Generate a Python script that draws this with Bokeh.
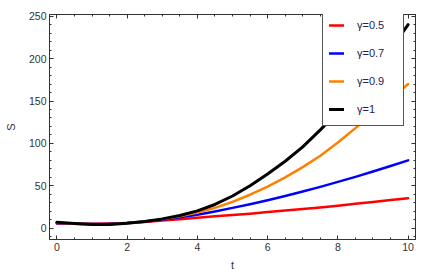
from bokeh.plotting import figure
from bokeh.models import (Range1d, LinearAxis, SingleIntervalTicker, Legend, LegendItem)
from bokeh.embed import file_html
from bokeh.resources import INLINE

# ---- data ----
t = [0, 0.5, 1, 1.5, 2, 2.5, 3, 3.5, 4, 4.5, 5, 5.5, 6, 6.5, 7, 7.5, 8, 8.5, 9, 9.5, 10]
s_05 = [5.5, 5.2, 5.2, 5.6, 6.3, 7.2, 9.0, 10.5, 12.3, 14.0, 15.6, 17.2, 19.0, 20.8, 22.6, 24.5, 26.6, 28.8, 31.0, 33.2, 35.4]
s_07 = [6.0, 5.3, 5.0, 5.3, 6.3, 7.8, 10.0, 12.8, 16.0, 19.8, 24.0, 28.3, 33.0, 38.0, 43.3, 48.8, 54.6, 60.6, 66.8, 73.3, 80.0]
s_09 = [6.5, 5.3, 4.6, 4.8, 6.0, 8.0, 10.5, 14.0, 18.5, 24.0, 31.0, 39.5, 49.0, 60.0, 72.0, 85.5, 101.0, 118.0, 135.0, 152.5, 170.0]
s_10 = [7.0, 5.5, 4.4, 4.5, 5.8, 8.0, 11.0, 15.0, 20.5, 28.0, 38.0, 50.0, 64.0, 79.0, 96.0, 116.0, 137.0, 160.0, 184.0, 211.0, 240.0]
labels = ["γ=0.5", "γ=0.7", "γ=0.9", "γ=1"]
colors = ["#ff0000", "#0000ff", "#ff8000", "#000000"]
widths = [2.5, 2.5, 2.5, 3.0]
x_ticks_interval = 2
y_ticks_interval = 50

FONT = "Liberation Sans"
FRAME = "#333333"

p = figure(width=432, height=273, output_backend="svg", toolbar_location=None,
           x_range=Range1d(-0.21, 10.21), y_range=Range1d(-13.3, 252),
           min_border_left=49, min_border_right=17, min_border_top=14, min_border_bottom=34,
           background_fill_color="white", border_fill_color="white")
p.xgrid.visible = False
p.ygrid.visible = False
p.outline_line_color = FRAME
p.outline_line_alpha = 1.0
p.outline_line_width = 1

def style_axis(ax, show_labels):
    ax.axis_line_color = FRAME
    ax.major_tick_in = 4
    ax.major_tick_out = 0
    ax.minor_tick_in = 2
    ax.minor_tick_out = 0
    ax.major_tick_line_color = FRAME
    ax.minor_tick_line_color = FRAME
    ax.major_label_text_font = FONT
    if show_labels:
        ax.major_label_text_color = "#333333"
        ax.major_label_text_font_size = "10.5px"
        ax.major_label_standoff = 3
    else:
        ax.major_label_text_color = None
        ax.major_label_text_font_size = "1px"
        ax.major_label_standoff = 0

xt = SingleIntervalTicker(interval=x_ticks_interval, num_minor_ticks=4)
yt = SingleIntervalTicker(interval=y_ticks_interval, num_minor_ticks=5)

p.xaxis.ticker = xt
p.yaxis.ticker = yt
style_axis(p.xaxis[0], True)
style_axis(p.yaxis[0], True)
p.xaxis.axis_label = "t"
p.yaxis.axis_label = "S"
for ax in (p.xaxis[0], p.yaxis[0]):
    ax.axis_label_text_font = FONT
    ax.axis_label_text_font_style = "normal"
    ax.axis_label_text_font_size = "11px"
    ax.axis_label_text_color = "#333333"
    ax.axis_label_standoff = 5
p.yaxis[0].axis_label_standoff = 9

top_ax = LinearAxis(ticker=SingleIntervalTicker(interval=x_ticks_interval, num_minor_ticks=4))
right_ax = LinearAxis(ticker=SingleIntervalTicker(interval=y_ticks_interval, num_minor_ticks=5))
style_axis(top_ax, False)
style_axis(right_ax, False)
p.add_layout(top_ax, "above")
p.add_layout(right_ax, "right")

series = [s_05, s_07, s_09, s_10]
items = []
for lab, col, lw, ys in zip(labels, colors, widths, series):
    r = p.line(t, ys, line_color=col, line_width=lw, line_join="round", line_cap="round")
    items.append(LegendItem(label=lab, renderers=[r]))

legend = Legend(items=items, location=(273, 113),
                border_line_color="#555555", border_line_width=1, border_line_alpha=1.0,
                background_fill_color="white", background_fill_alpha=1.0,
                padding=6, spacing=8, margin=0,
                glyph_width=15, glyph_height=20, label_height=20, label_width=40,
                label_standoff=13,
                label_text_font=FONT, label_text_font_size="11px",
                label_text_color="#222255")
p.add_layout(legend, "center")

open("out.html", "w").write(file_html(p, INLINE))
